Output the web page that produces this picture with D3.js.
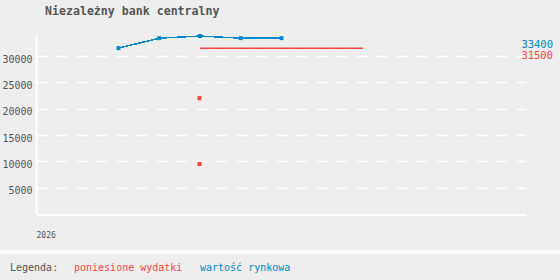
<!DOCTYPE html>
<html>
<head>
<meta charset="utf-8">
<script src="https://cdn.jsdelivr.net/npm/d3@7"></script>
<style>
body { margin: 0; background: #eeeeee; }
svg text { font-family: "DejaVu Sans Mono", monospace; }
</style>
</head>
<body>
<svg id="chart" width="560" height="280"></svg>
<script>
// dane
var title = "Niezależny bank centralny";
var yearLabel = "2026";
var rynkowaX = [2,3,4,5,6];
var rynkowa = [31500,33400,33800,33400,33400];
var wydatkiX = [4,5,6,7,8];
var wydatki = [31500,31500,31500,31500,31500];
var wydatkiPunktyX = [4,4];
var wydatkiPunkty = [22000,9500];
var yTicks = [5000,10000,15000,20000,25000,30000];

var blue = "#0088cc", red = "#ff4444", grey = "#555";

var svg = d3.select("#chart");

var x = d3.scaleLinear().domain([0,12]).range([37,526]);
var y = d3.scaleLinear().domain([0,34000]).range([214,35]);

// tytul
svg.append("text")
  .attr("x",45).attr("y",15)
  .attr("font-size","11.6px").attr("font-weight","bold")
  .attr("fill",grey)
  .text(title);

// siatka
svg.append("g").selectAll("line").data(yTicks).enter().append("line")
  .attr("x1",37).attr("x2",526)
  .attr("y1",function(d){return Math.round(y(d))+0.5;})
  .attr("y2",function(d){return Math.round(y(d))+0.5;})
  .attr("stroke","#fff").attr("stroke-width",1.5)
  .attr("stroke-dasharray","10,10");

// os y
var yAxis = svg.append("g").attr("transform","translate(36.5,0)")
  .call(d3.axisLeft(y).tickValues(yTicks).tickSize(0).tickPadding(4).tickFormat(d3.format("d")));
yAxis.select(".domain").attr("stroke","#fff").attr("stroke-width",2).attr("d","M0,35V214");
yAxis.selectAll("text").attr("font-size","10px").attr("fill",grey)
  .attr("font-family","'DejaVu Sans Mono', monospace").attr("dy","0.6em");

// os x
var xAxis = svg.append("g").attr("transform","translate(0,214.5)")
  .call(d3.axisBottom(x).tickValues([0]).tickSize(0).tickPadding(18).tickFormat(function(){return yearLabel;}));
xAxis.select(".domain").attr("stroke","#fff").attr("stroke-width",2);
xAxis.selectAll("text").attr("font-size","8px").attr("fill",grey)
  .attr("font-family","'DejaVu Sans Mono', monospace").attr("text-anchor","start").attr("x",-1);

// wydatki
var line = d3.line().x(function(d){return x(d[0]);}).y(function(d){return y(d[1]);});
svg.append("path")
  .attr("d",line(d3.zip(wydatkiX,wydatki)))
  .attr("fill","none").attr("stroke",red).attr("stroke-width",1.5);
svg.append("g").selectAll("rect").data(d3.zip(wydatkiPunktyX,wydatkiPunkty)).enter().append("rect")
  .attr("x",function(d){return x(d[0])-2.5;})
  .attr("y",function(d){return y(d[1])-2;})
  .attr("width",4).attr("height",4).attr("fill",red);

// wartosc rynkowa
svg.append("path")
  .attr("d",line(d3.zip(rynkowaX,rynkowa)))
  .attr("fill","none").attr("stroke",blue).attr("stroke-width",1.5)
  .attr("shape-rendering","crispEdges");
svg.append("g").selectAll("rect").data(d3.zip(rynkowaX,rynkowa)).enter().append("rect")
  .attr("x",function(d){return x(d[0])-2;})
  .attr("y",function(d){return y(d[1])-2;})
  .attr("width",4).attr("height",4).attr("fill",blue);

// etykiety ostatnich wartosci
svg.append("text").attr("x",553).attr("y",48).attr("text-anchor","end")
  .attr("font-size","10.5px").attr("fill",blue).text(rynkowa[rynkowa.length-1]);
svg.append("text").attr("x",553).attr("y",59).attr("text-anchor","end")
  .attr("font-size","10.5px").attr("fill",red).text(wydatki[wydatki.length-1]);

// legenda
svg.append("rect").attr("x",0).attr("y",250).attr("width",560).attr("height",4).attr("fill","#fafafa");
svg.append("text").attr("x",10).attr("y",271).attr("font-size","10px").attr("fill",grey).text("Legenda:");
svg.append("text").attr("x",74).attr("y",271).attr("font-size","10px").attr("fill",red).text("poniesione wydatki");
svg.append("text").attr("x",200).attr("y",271).attr("font-size","10px").attr("fill",blue).text("wartość rynkowa");
</script>
</body>
</html>
